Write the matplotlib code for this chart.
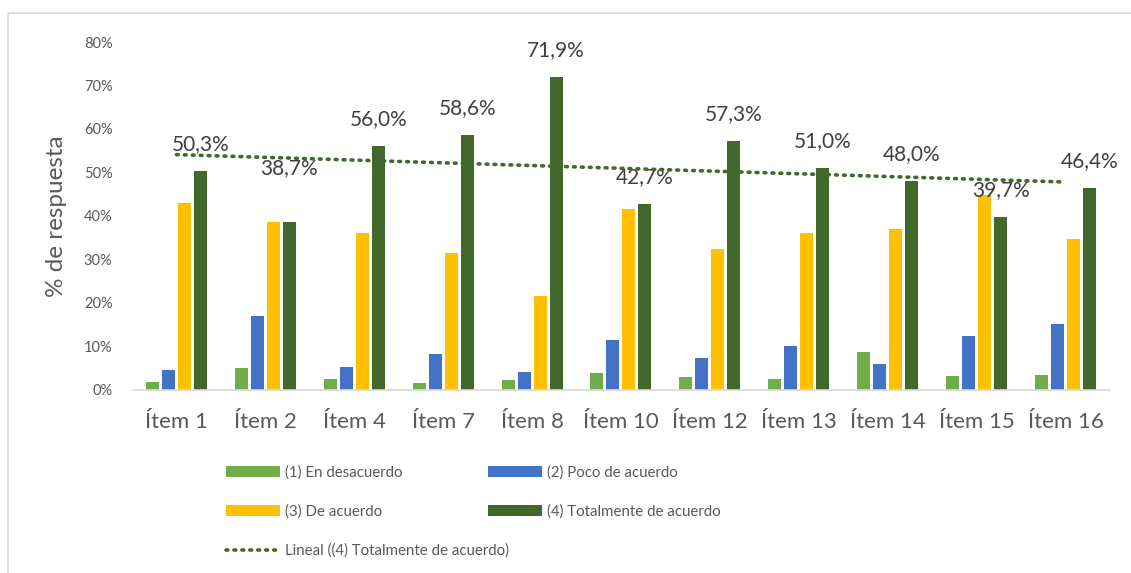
import numpy as np
import matplotlib
matplotlib.use("Agg")
import matplotlib.pyplot as plt
from matplotlib.patches import Rectangle
from matplotlib.ticker import PercentFormatter

plt.rcParams["font.family"] = ["Lato", "DejaVu Sans"]

# Data (% of responses)
items = ["Ítem 1", "Ítem 2", "Ítem 4", "Ítem 7", "Ítem 8", "Ítem 10",
         "Ítem 12", "Ítem 13", "Ítem 14", "Ítem 15", "Ítem 16"]
desacuerdo = [1.9, 5.1, 2.5, 1.6, 2.2, 4.0, 2.9, 2.5, 8.8, 3.2, 3.5]
poco_acuerdo = [4.6, 17.1, 5.2, 8.3, 4.2, 11.5, 7.3, 10.2, 6.0, 12.3, 15.2]
de_acuerdo = [43.0, 38.7, 36.1, 31.4, 21.5, 41.7, 32.5, 36.1, 37.1, 44.8, 34.8]
totalmente = [50.3, 38.7, 56.0, 58.6, 71.9, 42.7, 57.3, 51.0, 48.0, 39.7, 46.4]

series = [
    ("(1) En desacuerdo", desacuerdo, "#70AD47"),
    ("(2) Poco de acuerdo", poco_acuerdo, "#4472C4"),
    ("(3) De acuerdo", de_acuerdo, "#FFC000"),
    ("(4) Totalmente de acuerdo", totalmente, "#43682B"),
]

fig = plt.figure(figsize=(11.31, 5.73), dpi=100)
ax = fig.add_axes([0.1167, 0.3194, 0.8647, 0.6073])

# chart area border (only top/left visible in the reference)
fig.patches.append(Rectangle((8 / 1131, -0.1), 1.2, 1 - 13 / 573 + 0.1,
                             transform=fig.transFigure, fill=False,
                             edgecolor="#D9D9D9", linewidth=1.2))

x = np.arange(len(items))
step = 0.18
width = 0.146
handles = {}
for i, (name, vals, color) in enumerate(series):
    bars = ax.bar(x + (i - 1.5) * step, vals, width, color=color,
                  label=name, zorder=2)
    handles[name] = bars

# data labels on (4)
for xi, v in zip(x, totalmente):
    off = 27 if xi != 1 else 54
    ax.annotate(f"{v:.1f}%".replace(".", ","), (xi + 1.5 * step, v),
                xytext=(0, off * 0.72), textcoords="offset points",
                ha="center", va="center", fontsize=15, color="#404040")

# linear trendline of (4)
coef = np.polyfit(x, totalmente, 1)
trend, = ax.plot(x, np.polyval(coef, x), color="#43682B", linewidth=2.6,
                 linestyle=(0, (0.5, 1.7)), dash_capstyle="round", zorder=3,
                 label="Lineal ((4) Totalmente de acuerdo)")

ax.set_xlim(-0.5, len(items) - 0.5)
ax.set_ylim(0, 80)
ax.set_yticks(range(0, 81, 10))
ax.yaxis.set_major_formatter(PercentFormatter(decimals=0))
ax.set_xticks(x)
ax.set_xticklabels(items)
ax.tick_params(axis="x", length=0, labelsize=16, labelcolor="#595959", pad=16)
ax.tick_params(axis="y", length=0, labelsize=10.5, labelcolor="#595959", pad=14)
for s in ["top", "right", "left"]:
    ax.spines[s].set_visible(False)
ax.spines["bottom"].set_color("#D9D9D9")
ax.spines["bottom"].set_linewidth(1.2)
ax.set_ylabel("% de respuesta", fontsize=17.5, color="#595959", labelpad=12)

order = [handles["(1) En desacuerdo"], handles["(3) De acuerdo"], trend,
         handles["(2) Poco de acuerdo"], handles["(4) Totalmente de acuerdo"]]
labels = ["(1) En desacuerdo", "(3) De acuerdo",
          "Lineal ((4) Totalmente de acuerdo)",
          "(2) Poco de acuerdo", "(4) Totalmente de acuerdo"]
fig.legend(order, labels, loc="upper left", bbox_to_anchor=(0.2, 0.188),
           ncol=2, frameon=False, fontsize=10.8, labelcolor="#595959",
           handlelength=3.6, handleheight=0.7, handletextpad=0.35,
           labelspacing=1.65, columnspacing=-1.45, borderpad=0, borderaxespad=0)

fig.savefig("out.png", dpi=100)
